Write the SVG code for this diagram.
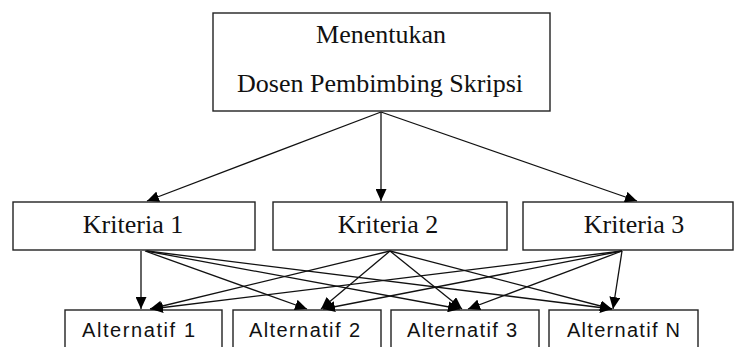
<svg xmlns="http://www.w3.org/2000/svg" width="735" height="347" viewBox="0 0 735 347">
  <style>
    .box { fill: #fff; stroke: #222; stroke-width: 1.4; }
    .serif { font-family: "Liberation Serif", "Times New Roman", serif; font-size: 26px; fill: #111; }
    .sans { font-family: "Liberation Sans", Arial, sans-serif; font-size: 20px; fill: #111; }
    .conn line { stroke: #111; stroke-width: 1.3; marker-end: url(#arr); }
  </style>
  <defs>
    <marker id="arr" markerUnits="userSpaceOnUse" markerWidth="13" markerHeight="11" refX="12" refY="5.5" orient="auto">
      <path d="M0,0 L12,5.5 L0,11 z" fill="#000"/>
    </marker>
  </defs>
  <rect width="735" height="347" fill="#fff"/>

  <g id="root">
    <rect class="box" x="213" y="13" width="337" height="98"/>
    <text class="serif" x="381" y="43" text-anchor="middle">Menentukan</text>
    <text class="serif" x="380" y="92" text-anchor="middle">Dosen Pembimbing Skripsi</text>
  </g>

  <g id="kriteria1">
    <rect class="box" x="13" y="202" width="242" height="48"/>
    <text class="serif" x="133" y="233" text-anchor="middle">Kriteria 1</text>
  </g>
  <g id="kriteria2">
    <rect class="box" x="273" y="202" width="234" height="48"/>
    <text class="serif" x="388" y="233" text-anchor="middle">Kriteria 2</text>
  </g>
  <g id="kriteria3">
    <rect class="box" x="523" y="202" width="210" height="48"/>
    <text class="serif" x="634" y="233" text-anchor="middle">Kriteria 3</text>
  </g>

  <g id="alt1">
    <rect class="box" x="65" y="310" width="157" height="60"/>
    <text class="sans" x="82" y="337" textLength="113" lengthAdjust="spacing">Alternatif 1</text>
  </g>
  <g id="alt2">
    <rect class="box" x="233" y="310" width="148" height="60"/>
    <text class="sans" x="249" y="337" textLength="111" lengthAdjust="spacing">Alternatif 2</text>
  </g>
  <g id="alt3">
    <rect class="box" x="391" y="310" width="148" height="60"/>
    <text class="sans" x="407" y="337" textLength="110" lengthAdjust="spacing">Alternatif 3</text>
  </g>
  <g id="altN">
    <rect class="box" x="549" y="310" width="149" height="60"/>
    <text class="sans" x="567" y="337" textLength="113" lengthAdjust="spacing">Alternatif N</text>
  </g>

  <g id="connectors" class="conn">
    <line x1="381" y1="112" x2="147" y2="201"/>
    <line x1="381" y1="112" x2="381" y2="201"/>
    <line x1="381" y1="112" x2="637" y2="201"/>

    <line x1="141" y1="251" x2="141" y2="309"/>
    <line x1="145" y1="251" x2="307" y2="309"/>
    <line x1="146" y1="251" x2="460" y2="309"/>
    <line x1="147" y1="251" x2="612" y2="309"/>

    <line x1="390" y1="251" x2="150" y2="309"/>
    <line x1="390" y1="251" x2="321" y2="309"/>
    <line x1="390" y1="251" x2="462" y2="309"/>
    <line x1="390" y1="251" x2="612" y2="309"/>

    <line x1="622" y1="251" x2="151" y2="309"/>
    <line x1="622" y1="251" x2="323" y2="309"/>
    <line x1="622" y1="251" x2="468" y2="309"/>
    <line x1="622" y1="251" x2="613" y2="309"/>
  </g>
</svg>
